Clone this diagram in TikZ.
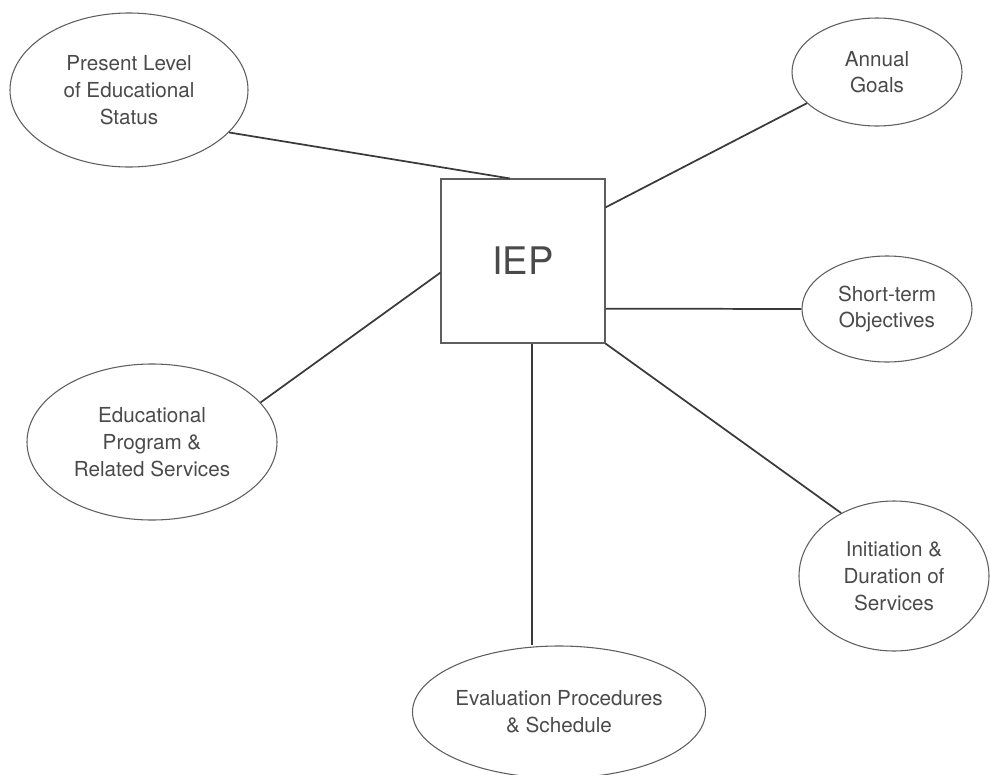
\documentclass[tikz,border=0pt]{standalone}
\usepackage{fontspec}
\setmainfont{TeX Gyre Heros}
\usepackage{tikz}
\usetikzlibrary{
  shapes.geometric,
  positioning
}
\definecolor{iepLine}{HTML}{3A3A3A}
\definecolor{iepEdge}{HTML}{5E5E5E}
\definecolor{iepText}{HTML}{4A4A4A}
\tikzset{
  topic/.style={
    draw=iepEdge, ellipse, line width=0.8pt, inner sep=0pt, align=center,
    text=iepText, font=\fontsize{15.5}{20}\selectfont
  },
  hub/.style={
    draw=iepEdge, rectangle, line width=0.8pt, minimum width=123pt, minimum height=123pt,
    text=iepText, font=\fontsize{28.5}{34}\selectfont
  },
  link/.style={iepLine, line width=1.3pt}
}

\begin{document}
\begin{tikzpicture}[x=0.75pt, y=-0.75pt]
  \useasboundingbox (0,0) rectangle (990,775);
  \node[hub] (iep) at (523,261) {IEP};
  \node[topic, minimum width=178.5pt, minimum height=115.5pt] (present) at (129,90) {Present Level\\of Educational\\Status};
  \node[topic, minimum width=127.5pt, minimum height=81pt] (annual) at (877,72) {Annual\\Goals};
  \node[topic, minimum width=127.5pt, minimum height=79.5pt] (short) at (887,309) {Short-term\\Objectives};
  \node[topic, minimum width=187.5pt, minimum height=117pt] (edu) at (152,442) {Educational\\Program \&\\Related Services};
  \node[topic, minimum width=142.5pt, minimum height=112.5pt] (init) at (894,576) {Initiation \&\\Duration of\\Services};
  \node[topic, minimum width=219pt, minimum height=99pt] (eval) at (559,712) {Evaluation Procedures\\\& Schedule};
  \draw[link] (present.-23) -- (iep.99);
  \draw[link] (iep.33) -- (annual.204);
  \draw[link] (iep.-30) -- (short.west);
  \draw[link] (iep.188) -- (edu.20);
  \draw[link] (iep.south east) -- (init.130);
  \draw[link] (iep.-84) -- (iep.-84 |- eval.north);
\end{tikzpicture}
\end{document}
